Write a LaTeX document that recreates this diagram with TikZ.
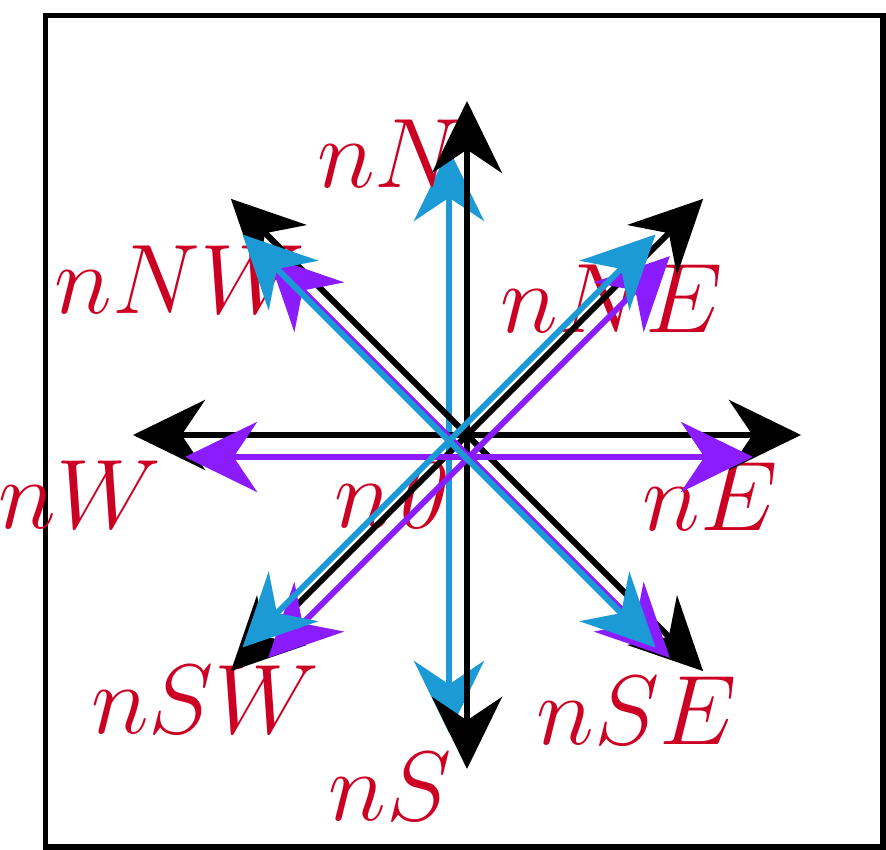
\documentclass[tikz,border=0pt]{standalone}
\usepackage{xcolor}
\definecolor{dirred}{RGB}{204,0,34}
\definecolor{dirblue}{RGB}{27,154,214}
\definecolor{dirpurple}{RGB}{139,28,255}
\usetikzlibrary{arrows.meta}

\tikzset{
  dirarrow/.style={line width=1.7pt, -{Stealth[length=0.72cm, width=0.7cm]}},
  dirlabel/.style={text=dirred, inner sep=0pt, font=\Huge, scale=1.13},
}

\begin{document}
\begin{tikzpicture}
  \useasboundingbox (0,0) rectangle (8.86,8.50);
  % Frame
  \draw[line width=1.6pt] (0.455,0.03) rectangle (8.83,8.345);

  % Origins of the three arrow sets
  \coordinate (k0) at (4.67,4.15);
  \coordinate (p0) at (4.69,3.93);
  \coordinate (b0) at (4.49,4.09);

  % Blue arrows, vertical ones
  \foreach \d/\a in {N/90,S/270} {
    \coordinate (b\d) at ([shift={(\a:2.92)}]b0);
    \draw[dirarrow, dirblue] (b0) -- (b\d);
  }

  % Labels
  \node[dirlabel] (nN)  at (3.90,6.96) {$nN$};
  \node[dirlabel] (nNE) at (6.12,5.51) {$nNE$};
  \node[dirlabel] (nE)  at (7.10,3.53) {$nE$};
  \node[dirlabel] (nSE) at (6.37,1.39) {$nSE$};
  \node[dirlabel] (nS)  at (3.90,0.63) {$nS$};
  \node[dirlabel] (nSW) at (2.05,1.50) {$nSW$};
  \node[dirlabel] (nW)  at (0.80,3.55) {$nW$};
  \node[dirlabel] (nNW) at (1.80,5.70) {$nNW$};
  \node[dirlabel] (n0)  at (3.95,3.55) {$n\mathit{0}$};

  % Black arrows
  \foreach \d/\a in {E/0,NE/45,N/90,NW/135,W/180,SW/225,S/270,SE/315} {
    \coordinate (k\d) at ([shift={(\a:3.34)}]k0);
    \draw[dirarrow] (k0) -- (k\d);
  }

  % Purple arrows
  \foreach \d/\a in {E/0,NE/45,NW/135,W/180,SW/225,SE/315} {
    \coordinate (p\d) at ([shift={(\a:2.84)}]p0);
    \draw[dirarrow, dirpurple] (p0) -- (p\d);
  }

  % Blue arrows, diagonal ones
  \foreach \d/\a in {NE/45,NW/135,SW/225,SE/315} {
    \coordinate (b\d) at ([shift={(\a:2.92)}]b0);
    \draw[dirarrow, dirblue] (b0) -- (b\d);
  }
\end{tikzpicture}
\end{document}
